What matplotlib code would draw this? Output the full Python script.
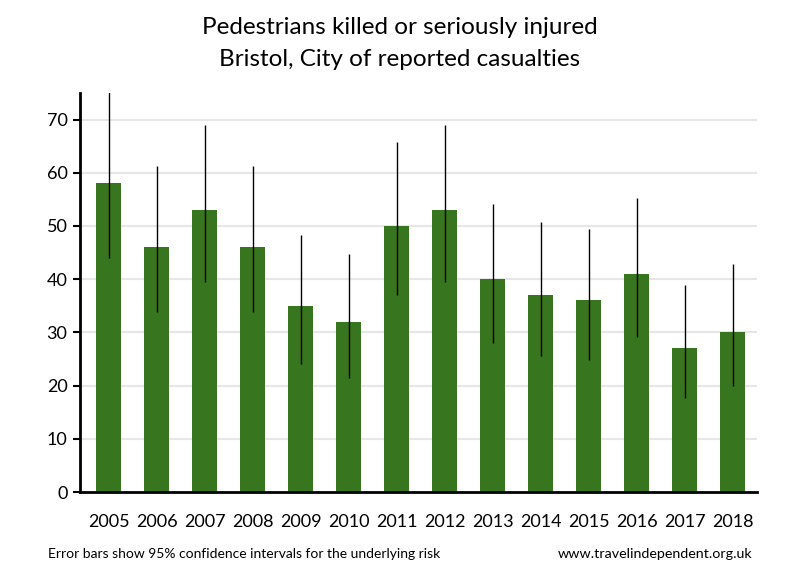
import numpy as np
import matplotlib
matplotlib.use('Agg')
import matplotlib.pyplot as plt

years = ['2005', '2006', '2007', '2008', '2009', '2010', '2011',
         '2012', '2013', '2014', '2015', '2016', '2017', '2018']
casualties = [58, 46, 53, 46, 35, 32, 50, 53, 40, 37, 36, 41, 27, 30]
ci_low = [43.9, 33.8, 39.4, 33.8, 24.0, 21.4, 37.0, 39.4, 28.1, 25.5, 24.8, 29.1, 17.6, 19.9]
ci_high = [76.5, 61.2, 69.0, 61.2, 48.4, 44.8, 65.7, 69.0, 54.2, 50.7, 49.5, 55.3, 39.0, 42.8]

plt.rcParams['font.family'] = ['Lato', 'DejaVu Sans']

fig = plt.figure(figsize=(8, 5.8), dpi=100)
ax = fig.add_axes([0.1, 0.1517, 0.846, 0.688])

x = np.arange(len(years))
ax.bar(x, casualties, width=0.52, color='#37761f', zorder=2)
ax.vlines(x, ci_low, ci_high, color='black', linewidth=1, zorder=3)

ax.set_xlim(-0.6, 13.5)
ax.set_ylim(0, 75)
ax.set_yticks(range(0, 80, 10))
ax.set_xticks(x)
ax.set_xticklabels(years)
ax.tick_params(axis='x', length=0, pad=16, labelsize=13)
ax.tick_params(axis='y', length=5, width=1.5, labelsize=13, pad=4)
for yv in range(10, 80, 10):
    ax.axhline(yv, color='#e6e6e6', linewidth=1.5, zorder=1)

for s in ['top', 'right']:
    ax.spines[s].set_visible(False)
ax.spines['left'].set_linewidth(2)
ax.spines['bottom'].set_linewidth(2)

fig.text(0.5, 0.952, 'Pedestrians killed or seriously injured', ha='center', va='center', fontsize=17.5)
fig.text(0.5, 0.897, 'Bristol, City of reported casualties', ha='center', va='center', fontsize=17.5)
fig.text(0.06, 0.045, 'Error bars show 95% confidence intervals for the underlying risk', ha='left', va='center', fontsize=10)
fig.text(0.94, 0.045, 'www.travelindependent.org.uk', ha='right', va='center', fontsize=10.3)

fig.savefig('out.png', dpi=100)
